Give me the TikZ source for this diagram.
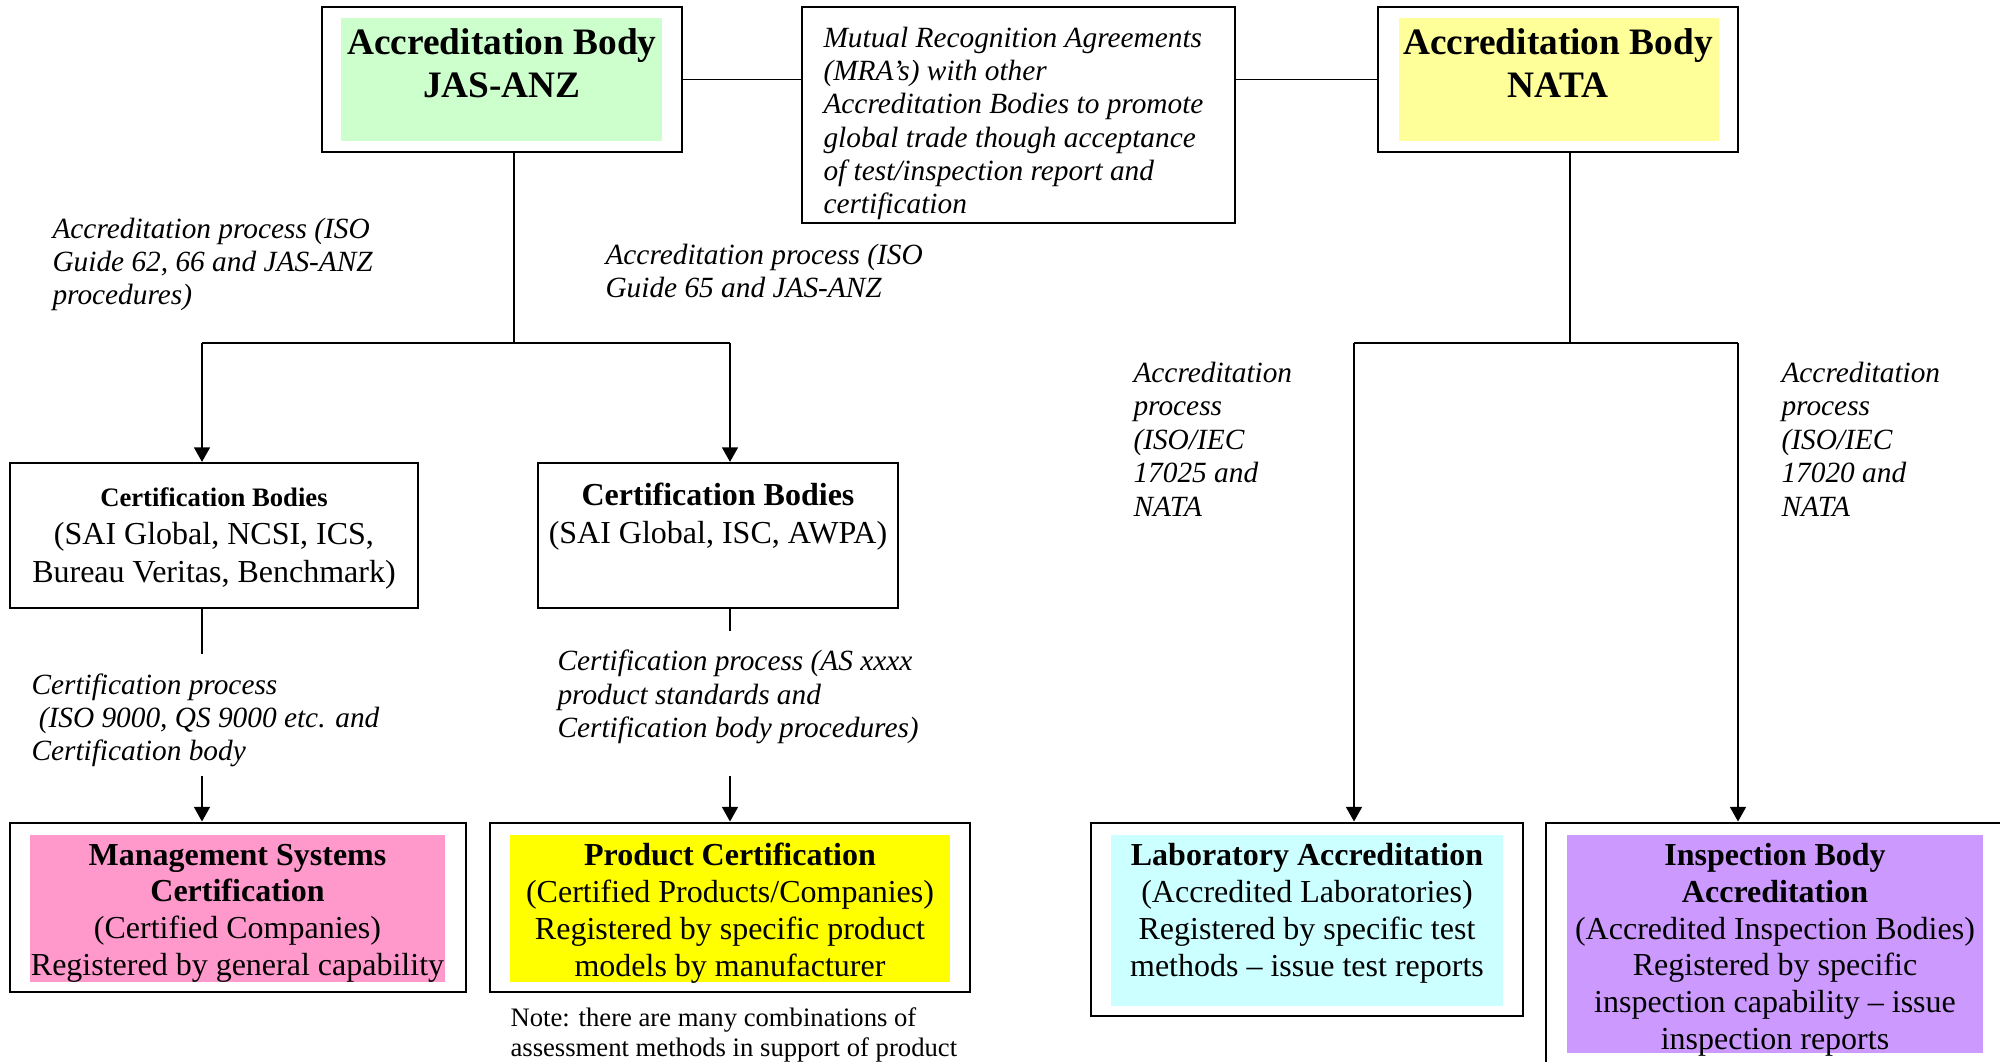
\documentclass[tikz,border=0pt]{standalone}
\usepackage{fontspec}
\setmainfont{Liberation Serif}
\usetikzlibrary{fit,arrows.meta}
\definecolor{cgreen}{HTML}{CCFFCC}
\definecolor{cpaleyel}{HTML}{FFFF99}
\definecolor{cpink}{HTML}{FF99CC}
\definecolor{cyel}{HTML}{FFFF00}
\definecolor{ccyan}{HTML}{CCFFFF}
\definecolor{cpurple}{HTML}{CC99FF}
\begin{document}
\begin{tikzpicture}[x=0.375pt,y=-0.375pt,
  topbox/.style={draw=black, line width=0.8pt, inner sep=0pt},
  botbox/.style={draw=black, line width=1.1pt, inner sep=0pt},
  fillbox/.style={inner sep=0pt, draw=none},
  conn/.style={draw=black, line width=0.65pt},
  arr/.style={conn, -{Triangle[length=5.5pt,width=6pt]}},
  titletxt/.style={font=\fontsize{14}{16.1}\selectfont\bfseries, align=center, inner sep=0pt},
  boxtxt/.style={font=\fontsize{12}{13.8}\selectfont, align=center, inner sep=0pt, yshift=-1.2pt},
  lblbase/.style={font=\fontsize{11}{12.45}\selectfont\itshape, align=left, inner sep=0pt, anchor=west},
  lbl/.style={lblbase, yshift=-0.9pt},
  notetxt/.style={font=\fontsize{10}{11.25}\selectfont, align=left, inner sep=0pt, anchor=west, yshift=-0.8pt}
]
\useasboundingbox (0,0) rectangle (2000,1062);
\clip (0,0) rectangle (2000,1062);

% ---- top row ----
\node[fillbox, fill=cgreen, fit={(341,18) (662,141)}] (jasfill) {};
\node[topbox, fit={(322,7) (682,152)}] (jas) {};
\node[titletxt] (jast) at (502,63.5) {Accreditation Body\\JAS-ANZ};

\node[topbox, fit={(802,7) (1235,223)}] (mra) {};
\node[lbl] (mrat) at (823,121) {Mutual Recognition Agreements\\(MRA’s) with other\\Accreditation Bodies to promote\\global trade though acceptance\\of test/inspection report and\\certification};

\node[fillbox, fill=cpaleyel, fit={(1399,18) (1719,141)}] (natafill) {};
\node[topbox, fit={(1378,7) (1738,152)}] (nata) {};
\node[titletxt] (natat) at (1558,63.5) {Accreditation Body\\NATA};

\draw[conn] (jas.east) -- (jas.east -| mra.west);
\draw[conn] (mra.east |- nata.west) -- (nata.west);

% ---- JAS-ANZ branch ----
\coordinate (jt) at (514,343);
\coordinate (jl) at (202,343);
\coordinate (jr) at (730,343);
\draw[conn] (jas.south -| jt) -- (jt);
\draw[conn] (jl) -- (jr);

\node[lbl] (lab1) at (52,262) {Accreditation process (ISO\\Guide 62, 66 and JAS-ANZ\\procedures)};
\node[lbl] (lab2) at (605,268.5) {Accreditation process (ISO\\Guide 65 and JAS-ANZ};

\node[topbox, fit={(10,463) (418,608)}] (cb1) {};
\node[boxtxt, font=\fontsize{12}{14.25}\selectfont] (cb1t) at (214,535) {{\fontsize{10}{14.25}\selectfont\bfseries Certification Bodies}\\(SAI Global, NCSI, ICS,\\Bureau Veritas, Benchmark)};
\node[topbox, fit={(538,463) (898,608)}] (cb2) {};
\node[boxtxt, font=\fontsize{12}{14.25}\selectfont] (cb2t) at (718,513) {\textbf{Certification Bodies}\\(SAI Global, ISC, AWPA)};

\draw[arr] (jl) -- (jl |- cb1.north);
\draw[arr] (jr) -- (jr |- cb2.north);

\coordinate (c1e) at (202,654);
\coordinate (c2e) at (730,631);
\draw[conn] (c1e |- cb1.south) -- (c1e);
\draw[conn] (c2e |- cb2.south) -- (c2e);

\node[lbl] (lab3) at (31,718) {Certification process\\\hspace*{0.25em}(ISO 9000, QS 9000 etc. and\\Certification body};
\node[lbl] (lab4) at (557,694.5) {Certification process (AS xxxx\\product standards and\\Certification body procedures)};

\node[fillbox, fill=cpink, fit={(30,835) (445,982)}] (mscfill) {};
\node[botbox, fit={(10,823) (466,992)}] (msc) {};
\node[boxtxt] (msct) at (237.5,910) {\textbf{Management Systems}\\\textbf{Certification}\\(Certified Companies)\\Registered by general capability};

\node[fillbox, fill=cyel, fit={(510,835) (950,982)}] (pcfill) {};
\node[botbox, fit={(490,823) (970,992)}] (pc) {};
\node[boxtxt] (pct) at (730,910) {\textbf{Product Certification}\\(Certified Products/Companies)\\Registered by specific product\\models by manufacturer};

\coordinate (c1s) at (202,776);
\coordinate (c2s) at (730,776);
\draw[arr] (c1s) -- (c1s |- msc.north);
\draw[arr] (c2s) -- (c2s |- pc.north);

\node[notetxt] (note) at (510,1033) {Note: there are many combinations of\\assessment methods in support of product};

% ---- NATA branch ----
\coordinate (nt) at (1570,343);
\coordinate (nl) at (1354,343);
\coordinate (nr) at (1738,343);
\draw[conn] (nata.south -| nt) -- (nt);
\draw[conn] (nl) -- (nr);

\node[lblbase, font=\fontsize{11}{12.56}\selectfont\itshape] (lab5) at (1133,439) {Accreditation\\process\\(ISO/IEC\\17025 and\\NATA};
\node[lblbase, font=\fontsize{11}{12.56}\selectfont\itshape] (lab6) at (1781,439) {Accreditation\\process\\(ISO/IEC\\17020 and\\NATA};

\node[fillbox, fill=ccyan, fit={(1111,835) (1503,1006)}] (labfill) {};
\node[botbox, fit={(1091,823) (1523,1016)}] (lab) {};
\node[boxtxt] (labt) at (1307,910) {\textbf{Laboratory Accreditation}\\(Accredited Laboratories)\\Registered by specific test\\methods – issue test reports};

\node[fillbox, fill=cpurple, fit={(1567,835) (1983,1053)}] (insfill) {};
\node[botbox, fit={(1546,823) (2020,1080)}] (ins) {};
\node[boxtxt] (inst) at (1775,946.5) {\textbf{Inspection Body}\\\textbf{Accreditation}\\(Accredited Inspection Bodies)\\Registered by specific\\inspection capability – issue\\inspection reports};

\draw[arr] (nl) -- (nl |- lab.north);
\draw[arr] (nr) -- (nr |- ins.north);
\end{tikzpicture}
\end{document}
